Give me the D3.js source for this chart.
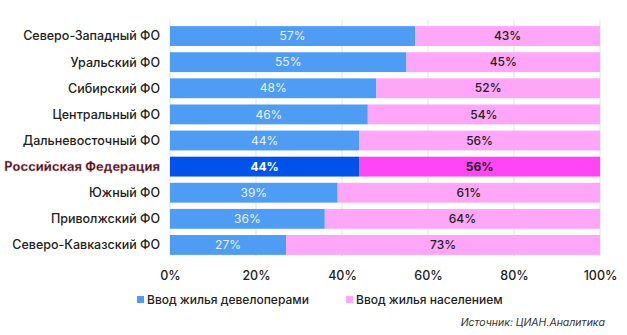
<!DOCTYPE html>
<html><head><meta charset="utf-8">
<script src="https://cdn.jsdelivr.net/npm/d3@7"></script>
<style>body{margin:0;background:#fff;} text{font-family:Inter, "Noto Sans", sans-serif;}</style>
</head><body>
<svg id="c" width="627" height="335"></svg>
<script>
const categories = ["Северо-Западный ФО","Уральский ФО","Сибирский ФО","Центральный ФО","Дальневосточный ФО","Российская Федерация","Южный ФО","Приволжский ФО","Северо-Кавказский ФО"];
const developers = [57,55,48,46,44,44,39,36,27];
const population = [43,45,52,54,56,56,61,64,73];
const highlight = "Российская Федерация";
const tickValues = [0,20,40,60,80,100];
const seriesNames = ["Ввод жилья девелоперами","Ввод жилья населением"];

const svg = d3.select("#c");
const x = d3.scaleLinear().domain([0,100]).range([170,600]);
const y = d3.scaleBand().domain(categories).range([23,258]).paddingInner(0.24).paddingOuter(0.12);

// gridlines
svg.append("g").selectAll("line").data(tickValues).join("line")
  .attr("x1",d=>x(d)).attr("x2",d=>x(d)).attr("y1",20).attr("y2",256)
  .attr("stroke","#e2e2e2").attr("stroke-width",1);

const rows = svg.append("g").selectAll("g").data(categories).join("g");
rows.append("rect").attr("x",x(0)).attr("y",d=>y(d)).attr("height",y.bandwidth())
  .attr("width",(d,i)=>x(developers[i])-x(0))
  .attr("fill",d=>d===highlight?"#0052ea":"#4f9cf5");
rows.append("rect").attr("x",(d,i)=>x(developers[i])).attr("y",d=>y(d)).attr("height",y.bandwidth())
  .attr("width",(d,i)=>x(100)-x(developers[i]))
  .attr("fill",d=>d===highlight?"#ff45f5":"#ffa6f8");
rows.append("text").attr("x",(d,i)=>x(developers[i]/2)).attr("y",d=>y(d)+y.bandwidth()/2)
  .attr("dy","0.35em").attr("text-anchor","middle").attr("font-size",12)
  .attr("font-weight",d=>d===highlight?700:400)
  .attr("fill",d=>d===highlight?"#ffffff":"#e8f1ff")
  .text((d,i)=>developers[i]+"%");
rows.append("text").attr("x",(d,i)=>x(developers[i]+population[i]/2)).attr("y",d=>y(d)+y.bandwidth()/2)
  .attr("dy","0.35em").attr("text-anchor","middle").attr("font-size",12)
  .attr("font-weight",d=>d===highlight?700:500)
  .attr("fill","#222")
  .text((d,i)=>population[i]+"%");

// y labels
svg.append("g").selectAll("text").data(categories).join("text")
  .attr("x",160).attr("y",d=>y(d)+y.bandwidth()/2).attr("dy","0.35em")
  .attr("text-anchor","end").attr("font-size",d=>d===highlight?12.8:12.5)
  .attr("font-weight",d=>d===highlight?700:500)
  .attr("letter-spacing",d=>d===highlight?"0.1px":"0px")
  .attr("fill",d=>d===highlight?"#3a1119":"#222")
  .attr("stroke",d=>d===highlight?"#f0a8b0":"none").attr("stroke-width",0.3)
  .text(d=>d);

// x axis labels
const ax = d3.axisBottom(x).tickValues(tickValues).tickFormat(d=>d+"%").tickSize(0);
const axg = svg.append("g").attr("transform","translate(0,268)").call(ax);
axg.select(".domain").remove();
axg.selectAll("text").attr("font-size",12.5).attr("fill","#222").attr("font-family","Inter, sans-serif").attr("font-weight",500);

// legend
const leg = svg.append("g").attr("transform","translate(0,300)");
const lx = [137,346];
const colors = ["#4f9cf5","#ffa6f8"];
seriesNames.forEach((n,i)=>{
  leg.append("rect").attr("x",lx[i]).attr("y",-4).attr("width",7).attr("height",7).attr("fill",colors[i]);
  leg.append("text").attr("x",lx[i]+10).attr("y",0).attr("dy","0.35em").attr("font-size",12).attr("font-weight",500).attr("fill","#222").text(n);
});

svg.append("text").attr("x",605).attr("y",322).attr("dy","0.35em").attr("text-anchor","end")
  .attr("font-size",10.5).attr("font-style","italic").attr("fill","#333").text("Источник: ЦИАН.Аналитика");
</script>
</body></html>
